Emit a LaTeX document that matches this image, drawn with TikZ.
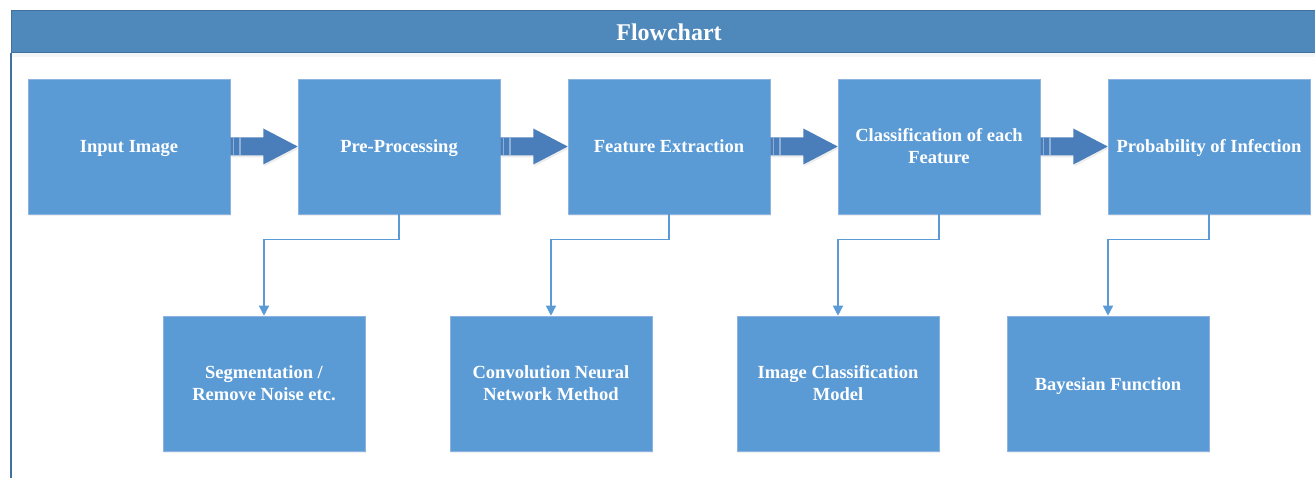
\documentclass[tikz,border=0pt]{standalone}
\usepackage{fontspec}
\setmainfont{Liberation Serif}
\usetikzlibrary{arrows.meta,calc,shadows}
\definecolor{boxfill}{HTML}{5B9BD5}
\definecolor{boxline}{HTML}{8DB3E0}
\definecolor{headfill}{HTML}{4F88BB}
\definecolor{headline}{HTML}{41719C}
\definecolor{arrowfill}{HTML}{4A7EBB}
\definecolor{stripe}{HTML}{8DB0D8}
\tikzset{
  stepbox/.style={rectangle, fill=boxfill, draw=boxline, line width=0.6pt,
    minimum width=202pt, minimum height=135pt, inner sep=0pt,
    text=white, font=\fontsize{18.5}{22}\selectfont\bfseries,
    drop shadow={opacity=0.12, shadow xshift=1pt, shadow yshift=-2pt}},
  oneline/.style={text height=15pt, text depth=2pt},
  twoline/.style={align=center},
  conn/.style={draw=boxfill, line width=1.4pt, -{Triangle[length=10pt,width=10pt]}},
  blockarrow/.style={fill=arrowfill, draw=none,
    drop shadow={opacity=0.15, shadow xshift=1pt, shadow yshift=-2pt}},
}
\newcommand{\blockarr}[2]{%
  \path[blockarrow] ($(#1.east)+(0,-9)$) -- ($(#1.east)+(33,-9)$) -- ($(#1.east)+(33,-18)$)
    -- (#2.west) -- ($(#1.east)+(33,18)$) -- ($(#1.east)+(33,9)$) -- ($(#1.east)+(0,9)$) -- cycle;
  \draw[stripe, line width=1.6pt] ($(#1.east)+(3,-9)$) -- ($(#1.east)+(3,9)$);
  \draw[stripe, line width=1.6pt] ($(#1.east)+(9.5,-9)$) -- ($(#1.east)+(9.5,9)$);
}
\begin{document}
\begin{tikzpicture}[x=1pt,y=-1pt]
\useasboundingbox[fill=white] (0,0) rectangle (1315,478);
% frame
\fill[headline!40, opacity=0.15] (11,53) rectangle (1315,57);
\path[fill=headfill, draw=headline, line width=1pt] (1316,11) -- (11,11) -- (11,53) -- (1316,53);
\draw[headline, line width=1.5pt] (11,53) -- (11,479);
\node[text=white, font=\fontsize{24}{28}\selectfont\bfseries] (title) at (669,32) {Flowchart};
% top row
\node[stepbox, oneline] (b1) at (129,146.5) {Input Image};
\node[stepbox, oneline] (b2) at (399,146.5) {Pre-Processing};
\node[stepbox, oneline] (b3) at (669,146.5) {Feature Extraction};
\node[stepbox, twoline] (b4) at (939,146.5) {Classification of each\\Feature};
\node[stepbox, oneline] (b5) at (1209,146.5) {Probability of Infection};
% bottom row
\node[stepbox, twoline] (s1) at (264,383.5) {Segmentation /\\Remove Noise etc.};
\node[stepbox, twoline] (s2) at (551,383.5) {Convolution Neural\\Network Method};
\node[stepbox, twoline] (s3) at (838,383.5) {Image Classification\\Model};
\node[stepbox, oneline] (s4) at (1108,383.5) {Bayesian Function};
% block arrows
\blockarr{b1}{b2}
\blockarr{b2}{b3}
\blockarr{b3}{b4}
\blockarr{b4}{b5}
% connectors
\draw[conn] (b2.south) -- ++(0,25) -| (s1.north);
\draw[conn] (b3.south) -- ++(0,25) -| (s2.north);
\draw[conn] (b4.south) -- ++(0,25) -| (s3.north);
\draw[conn] (b5.south) -- ++(0,25) -| (s4.north);
\end{tikzpicture}
\end{document}
